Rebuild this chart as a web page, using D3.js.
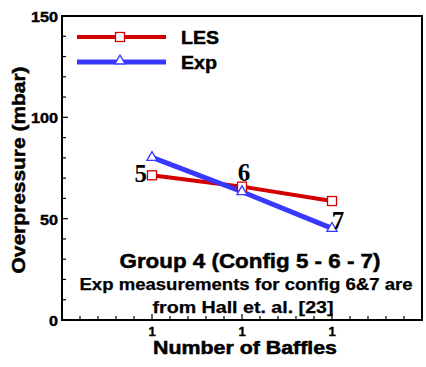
<!DOCTYPE html>
<html><head><meta charset="utf-8">
<script src="https://cdn.jsdelivr.net/npm/d3@7"></script>
<style>
body{margin:0;background:#fff;}
</style></head><body>
<svg id="c" width="426" height="367"></svg>
<script>
const configs = [5, 6, 7];
const xPositions = [1, 2, 3];
const xTickLabels = ["1", "1", "1"];
const lesValues = [71.4, 65.8, 58.7];
const expValues = [80.2, 63.3, 45.2];
const yTicks = [0, 50, 100, 150];
const seriesNames = ["LES", "Exp"];

const SANS = "Arial,'Liberation Sans',Helvetica,sans-serif";
const SERIF = "'Liberation Serif','Times New Roman',serif";
const svg = d3.select("#c");
const L = 62, R = 422, T = 16, B = 320;
const x = d3.scaleLinear().domain([0, 4]).range([L, R]);
const y = d3.scaleLinear().domain([0, 150]).range([B, T]);

function txt(g, s, opts) {
  const t = g.append("text").attr("x", opts.x || 0).attr("y", opts.y || 0)
    .attr("text-anchor", opts.anchor || "start")
    .style("font-family", opts.family || SANS).style("font-size", opts.size + "px")
    .style("font-weight", "bold").attr("fill", "#000")
    .attr("stroke", "#000").attr("stroke-width", opts.sw == null ? 0.5 : opts.sw)
    .text(s);
  if (opts.len) t.attr("textLength", opts.len).attr("lengthAdjust", "spacingAndGlyphs");
  if (opts.transform) t.attr("transform", opts.transform);
  return t;
}

// frame
svg.append("rect").attr("x", L).attr("y", T).attr("width", R - L).attr("height", B - T)
  .attr("fill", "none").attr("stroke", "#000").attr("stroke-width", 2);

// y ticks
d3.range(0, 151, 10).forEach(v => {
  const major = v % 50 === 0;
  svg.append("line").attr("x1", L).attr("x2", L + (major ? 6 : 4))
    .attr("y1", y(v)).attr("y2", y(v)).attr("stroke", "#000").attr("stroke-width", 1.2);
});
// x ticks
d3.range(0, 4.001, 0.2).forEach(v => {
  const major = Math.abs(v - Math.round(v)) < 1e-6;
  svg.append("line").attr("x1", x(v)).attr("x2", x(v))
    .attr("y1", B).attr("y2", B - (major ? 6 : 4)).attr("stroke", "#000").attr("stroke-width", 1.2);
});

// y tick labels
yTicks.forEach(d => txt(svg, String(d), {x: L - 4, y: y(d) + 6, anchor: "end", size: 14,
  len: String(d).length * 9, sw: 0.4}));
// x tick labels
xPositions.forEach((d, i) => txt(svg, xTickLabels[i], {x: x(d), y: B + 16, anchor: "middle", size: 13, sw: 0.4}));

// axis titles
txt(svg, "Overpressure (mbar)", {x: 0, y: 0, anchor: "middle", size: 19, len: 207,
  transform: "translate(25,170) rotate(-90)"});
txt(svg, "Number of Baffles", {x: 245, y: 354, anchor: "middle", size: 18, len: 184});

const line = d3.line().x((d, i) => x(xPositions[i])).y(d => y(d));
const red = "#d40000", blue = "#3838ff";

svg.append("path").attr("d", line(lesValues)).attr("fill", "none").attr("stroke", red).attr("stroke-width", 4);
svg.append("path").attr("d", line(expValues)).attr("fill", "none").attr("stroke", blue).attr("stroke-width", 5);

const tri = d3.symbol().type(d3.symbolTriangle).size(45);
function square(g, cx, cy) {
  g.append("rect").attr("x", cx - 4.5).attr("y", cy - 4.5).attr("width", 9).attr("height", 9)
    .attr("fill", "#fff").attr("stroke", red).attr("stroke-width", 1.3);
}
function triangle(g, cx, cy) {
  g.append("path").attr("d", tri()).attr("transform", `translate(${cx},${cy})`)
    .attr("fill", "#fff").attr("stroke", blue).attr("stroke-width", 1.3);
}
lesValues.forEach((v, i) => square(svg, x(xPositions[i]), y(v)));
expValues.forEach((v, i) => triangle(svg, x(xPositions[i]), y(v)));

// config labels
const cfgPos = [
  {dx: -5, dy: 7, anchor: "end", ref: lesValues},
  {dx: 2, dy: -6, anchor: "middle", ref: lesValues},
  {dx: 6, dy: 1, anchor: "middle", ref: expValues}
];
configs.forEach((c, i) => {
  const p = cfgPos[i];
  txt(svg, String(c), {x: x(xPositions[i]) + p.dx, y: y(p.ref[i]) + p.dy, anchor: p.anchor,
    family: SERIF, size: 25, sw: 0});
});

// legend
const legY = [37, 62];
[red, blue].forEach((col, i) => {
  svg.append("line").attr("x1", 77).attr("x2", 166).attr("y1", legY[i]).attr("y2", legY[i])
    .attr("stroke", col).attr("stroke-width", i ? 5 : 4);
  if (i === 0) square(svg, 120, legY[i]); else triangle(svg, 120, legY[i] - 1);
  txt(svg, seriesNames[i], {x: 181, y: legY[i] + 7, size: 19, len: i ? 36 : 38});
});

// annotation
txt(svg, "Group 4 (Config 5 - 6 - 7)", {x: 250, y: 268, anchor: "middle", size: 21, len: 261});
txt(svg, "Exp measurements for config 6&7 are", {x: 246, y: 290, anchor: "middle", size: 16, len: 333, sw: 0.25});
txt(svg, "from Hall et. al. [23]", {x: 243, y: 313, anchor: "middle", size: 16, len: 181, sw: 0.25});
</script>
</body></html>
